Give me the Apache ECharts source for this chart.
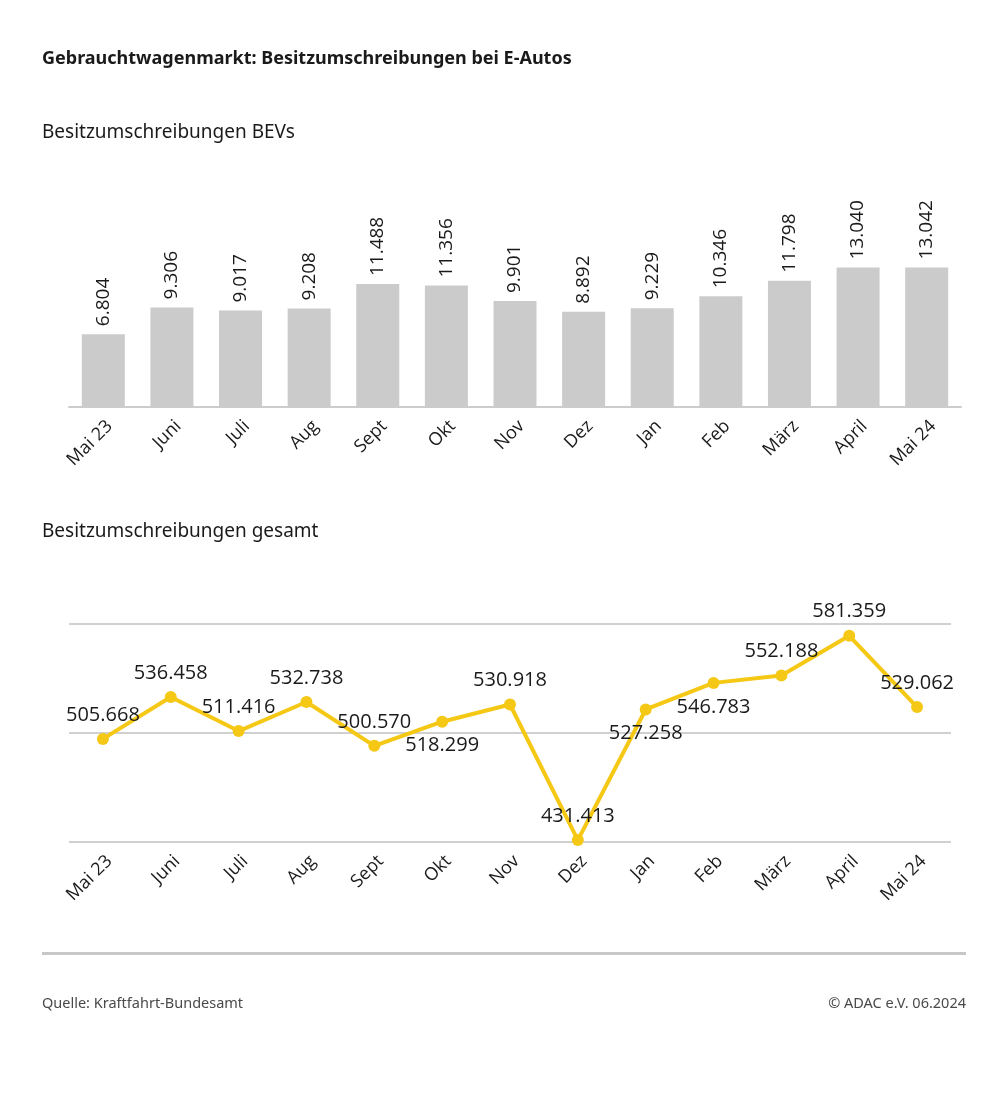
<!DOCTYPE html>
<html>
<head>
<meta charset="utf-8">
<script src="https://cdn.jsdelivr.net/npm/echarts@6/dist/echarts.min.js"></script>
<style>
html,body{margin:0;padding:0;background:#fff;}
#chart{width:1008px;height:1099px;}
</style>
</head>
<body>
<div id="chart"></div>
<script>
const categories = ['Mai 23','Juni','Juli','Aug','Sept','Okt','Nov','Dez','Jan','Feb','März','April','Mai 24'];
const bevValues = [6804, 9306, 9017, 9208, 11488, 11356, 9901, 8892, 9229, 10346, 11798, 13040, 13042];
const totalValues = [505668, 536458, 511416, 532738, 500570, 518299, 530918, 431413, 527258, 546783, 552188, 581359, 529062];
const totalLabelPlacement = ['top','top','top','top','top','bottom','top','top','bottom','bottom','top','top','top'];

const FONT = '"Open Sans", "Noto Sans", sans-serif';
const fmt = v => String(v).replace(/\B(?=(\d{3})+(?!\d))/g, '.');

const chart = echarts.init(document.getElementById('chart'), null, {renderer: 'canvas'});

const axisLabelStyle = {rotate: 45, fontSize: 18, color: '#1a1a1a', fontFamily: FONT, margin: 10, interval: 0, verticalAlign: 'top'};

chart.setOption({
  backgroundColor: '#ffffff',
  animation: false,
  textStyle: {fontFamily: FONT},
  graphic: [
    {type: 'text', left: 42, top: 50, style: {text: 'Gebrauchtwagenmarkt: Besitzumschreibungen bei E-Autos', font: 'bold 18px "Noto Sans", sans-serif', fill: '#1a1a1a'}},
    {type: 'text', left: 42, top: 123, style: {text: 'Besitzumschreibungen BEVs', font: '19px "Noto Sans", sans-serif', fill: '#1a1a1a'}},
    {type: 'text', left: 42, top: 522, style: {text: 'Besitzumschreibungen gesamt', font: '19px "Noto Sans", sans-serif', fill: '#1a1a1a'}},
    {type: 'rect', shape: {x: 42, y: 952, width: 924, height: 3}, style: {fill: '#c8c8c8'}},
    {type: 'text', left: 42, top: 996, style: {text: 'Quelle: Kraftfahrt-Bundesamt', font: '14.5px "Noto Sans", sans-serif', fill: '#4a4a4a'}},
    {type: 'text', right: 42, top: 996, style: {text: '© ADAC e.V. 06.2024', font: '14.5px "Noto Sans", sans-serif', fill: '#4a4a4a'}}
  ],
  grid: [
    {left: 69, right: 47, top: 193, height: 214},
    {left: 69, right: 57, top: 624, height: 218}
  ],
  xAxis: [
    {type: 'category', gridIndex: 0, data: categories, boundaryGap: true,
     axisLine: {lineStyle: {color: '#cccccc', width: 2}}, axisTick: {show: false},
     axisLabel: axisLabelStyle},
    {type: 'category', gridIndex: 1, data: categories, boundaryGap: true,
     axisLine: {show: false}, axisTick: {show: false},
     axisLabel: axisLabelStyle}
  ],
  yAxis: [
    {type: 'value', gridIndex: 0, min: 0, max: 20000, show: false, splitLine: {show: false}},
    {type: 'value', gridIndex: 1, min: 430000, max: 590000, interval: 80000,
     axisLine: {show: false}, axisTick: {show: false}, axisLabel: {show: false},
     splitLine: {lineStyle: {color: '#d0d0d0', width: 2}}}
  ],
  series: [
    {type: 'bar', xAxisIndex: 0, yAxisIndex: 0, data: bevValues, barWidth: 43,
     itemStyle: {color: '#cbcbcb'},
     label: {show: true, position: 'top', rotate: 90, align: 'left', verticalAlign: 'middle', distance: 8,
             fontSize: 19, color: '#1a1a1a', fontFamily: FONT, formatter: p => fmt(p.value)}},
    {type: 'line', xAxisIndex: 1, yAxisIndex: 1,
     data: totalValues.map((v, i) => ({value: v, label: {position: totalLabelPlacement[i]}})),
     lineStyle: {color: '#f5c816', width: 4}, itemStyle: {color: '#f5c816'},
     symbol: 'circle', symbolSize: 12,
     label: {show: true, distance: 8, fontSize: 20, color: '#1a1a1a', fontFamily: FONT, formatter: p => fmt(p.value)}}
  ]
});
</script>
</body>
</html>
